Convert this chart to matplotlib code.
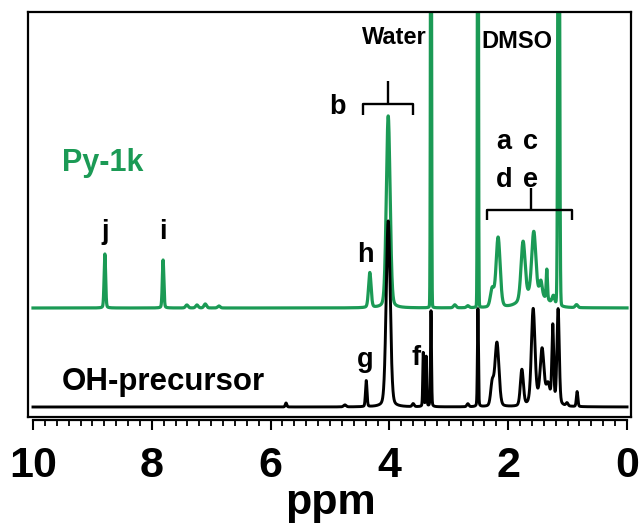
import numpy as np
import matplotlib
matplotlib.use("Agg")
import matplotlib.pyplot as plt
from matplotlib.ticker import MultipleLocator

plt.rcParams['font.family'] = ['Liberation Sans', 'DejaVu Sans']
plt.rcParams['font.weight'] = 'bold'

GREEN = '#1b9a55'

# peak tables: centre (ppm), height, width (ppm)
py1k_pos = [8.79, 7.81, 7.41, 7.24, 7.10, 6.87, 4.33, 4.02, 3.30, 2.90, 2.68,
            2.51, 2.27, 2.17, 1.75, 1.57, 1.45, 1.35, 1.24, 1.15, 0.85, 1.55]
py1k_hgt = [54, 48, 3, 3, 4, 2, 35, 192, 700, 3, 2,
            700, 18, 70, 58, 62, 14, 30, 8, 700, 3, 14]
py1k_wid = [0.03, 0.03, 0.05, 0.05, 0.05, 0.05, 0.05, 0.075, 0.018, 0.05, 0.05,
            0.018, 0.07, 0.08, 0.08, 0.08, 0.05, 0.025, 0.05, 0.03, 0.05, 0.45]

oh_pos = [5.74, 4.75, 4.39, 4.02, 3.60, 3.43, 3.38, 3.30, 2.68, 2.51, 2.27, 2.19,
          1.77, 1.58, 1.43, 1.33, 1.25, 1.16, 1.01, 0.84, 1.40]
oh_hgt = [4, 2, 26, 186, 3, 54, 50, 96, 3, 98, 22, 64,
          36, 92, 46, 12, 74, 94, 3, 15, 12]
oh_wid = [0.03, 0.05, 0.03, 0.08, 0.04, 0.02, 0.02, 0.02, 0.04, 0.02, 0.06, 0.08,
          0.06, 0.07, 0.07, 0.06, 0.035, 0.045, 0.04, 0.03, 0.35]

py1k_offset = 109
oh_offset = 10

ppm = np.linspace(10, 0, 8000)


def spectrum(pos, hgt, wid, eta=0.2):
    y = np.zeros_like(ppm)
    for p, h, w in zip(pos, hgt, wid):
        hw = w / 2
        lor = 1 / (1 + ((ppm - p) / hw) ** 2)
        gau = np.exp(-np.log(2) * ((ppm - p) / hw) ** 2)
        e = eta if h < 300 else 0.02
        y += h * (e * lor + (1 - e) * gau)
    return y


fig = plt.figure(figsize=(6.41, 5.24), dpi=100)
ax = fig.add_axes([28 / 641, 107 / 524, 603 / 641, 405 / 524])
ax.set_xlim(10.084, -0.067)
ax.set_ylim(0, 405)
ax.set_xticks([])
ax.set_yticks([])
for s in ax.spines.values():
    s.set_linewidth(1.6)

ax.plot(ppm, spectrum(py1k_pos, py1k_hgt, py1k_wid) + py1k_offset, color=GREEN, lw=2.3)
ax.plot(ppm, spectrum(oh_pos, oh_hgt, oh_wid) + oh_offset, color='black', lw=2.1)

# labels
ax.text(9.51, 254, 'Py-1k', color=GREEN, fontsize=22, fontweight='bold', ha='left', va='center')
ax.text(9.51, 35, 'OH-precursor', color='black', fontsize=22.5, fontweight='bold', ha='left', va='center')
ax.text(3.92, 379, 'Water', fontsize=17, ha='center', va='center')
ax.text(1.85, 376, 'DMSO', fontsize=17, ha='center', va='center')
for t, x, y in [('j', 8.79, 185), ('i', 7.81, 185), ('h', 4.41, 162), ('g', 4.41, 57),
                ('f', 3.55, 59), ('b', 4.88, 310), ('a', 2.07, 275), ('c', 1.63, 275),
                ('d', 2.07, 237), ('e', 1.62, 237)]:
    ax.text(x, y, t, fontsize=19.5, ha='center', va='center')

# brackets
bk = dict(color='black', lw=1.7, solid_capstyle='butt')
ax.plot([4.44, 4.44, 3.60, 3.60], [302, 313, 313, 302], **bk)
ax.plot([4.02, 4.02], [313, 336], **bk)
ax.plot([2.36, 2.36, 0.93, 0.93], [197, 207, 207, 197], **bk)
ax.plot([1.62, 1.62], [207, 229], **bk)

# offset ppm axis below the frame
tx = fig.add_axes([33 / 641, 104 / 524, 594 / 641, 0.0001])
tx.set_xlim(10, 0)
tx.set_yticks([])
for k in ['top', 'left', 'right']:
    tx.spines[k].set_visible(False)
tx.spines['bottom'].set_linewidth(1.6)
tx.xaxis.set_major_locator(MultipleLocator(2))
tx.xaxis.set_minor_locator(MultipleLocator(0.2))
tx.tick_params(axis='x', which='major', length=7.5, width=1.5, pad=11, labelsize=31)
tx.tick_params(axis='x', which='minor', length=4, width=1.3)
tx.set_xticks([10, 8, 6, 4, 2, 0])
tx.set_xticklabels(['10', '8', '6', '4', '2', '0'], fontweight='bold')
tx.set_xlabel('ppm', fontsize=31, fontweight='bold', labelpad=-2)

fig.savefig('out.png', dpi=100)
